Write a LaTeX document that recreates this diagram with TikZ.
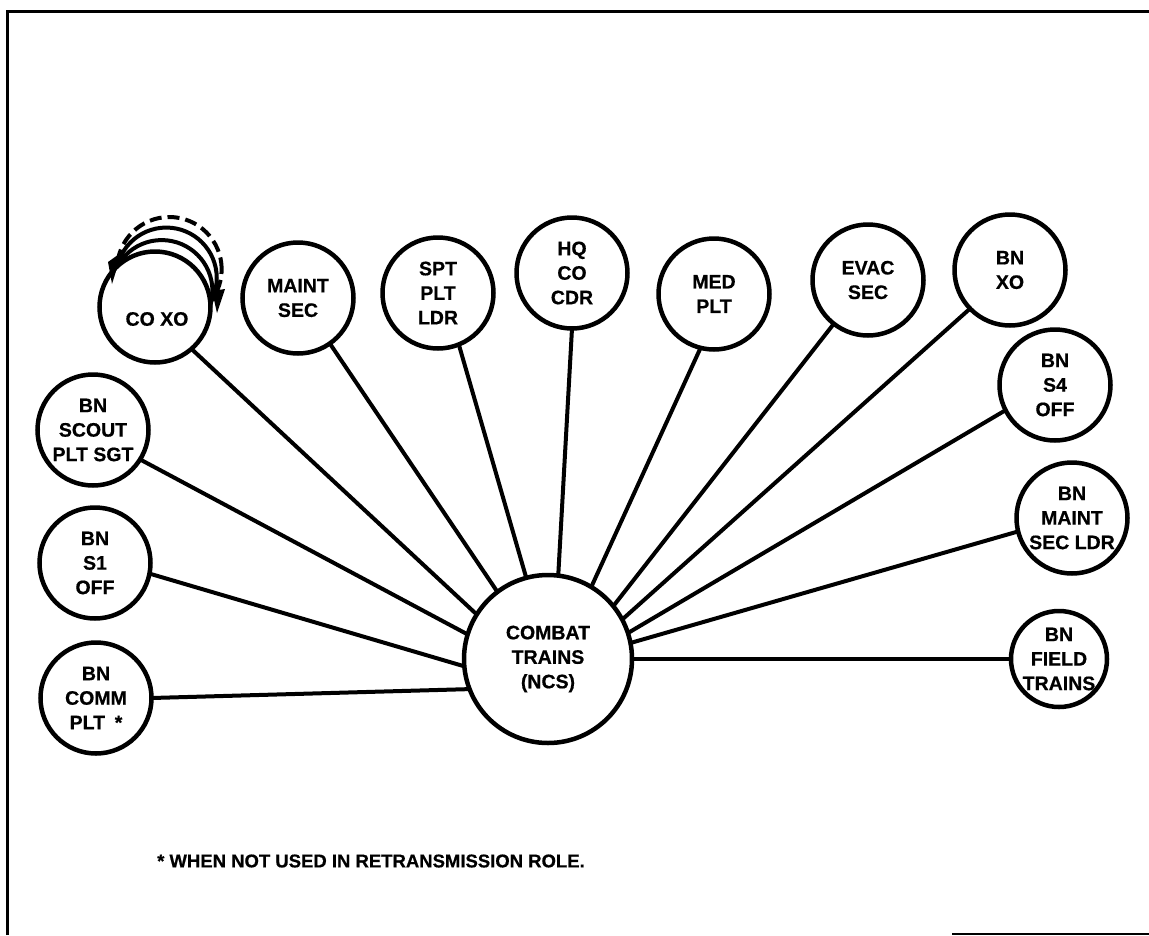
\documentclass[tikz,border=0pt]{standalone}
\usepackage{fontspec}
\setmainfont{Liberation Sans}[BoldFeatures={FakeBold=0.6}]
\begin{document}
\begin{tikzpicture}[x=1pt,y=-1pt,
  stn/.style={circle,draw,line width=4.5pt,fill=white,minimum size=111pt,inner sep=0pt,outer sep=0pt,align=center,font=\fontsize{19.5}{24.5}\selectfont\bfseries},
  lbl/.style={inner sep=0pt,align=center,font=\fontsize{19.5}{24.5}\selectfont\bfseries},
  link/.style={line width=4pt},
  loop/.style={line width=4pt},
  note/.style={anchor=west,inner sep=0pt,font=\fontsize{18.5}{22}\selectfont\bfseries}]
\useasboundingbox (0,0) rectangle (1149,935);
% frame
\draw[line width=3pt] (7,935) -- (7,11) -- (1149,11);
\draw[line width=2pt] (952,934) -- (1149,934);
% stacked circles behind CO XO
\draw[loop] (161.7,290.8) circle[radius=50.73pt];
\draw[loop] (166.3,278.0) circle[radius=50.45pt];
\draw[loop,dash pattern=on 12pt off 6pt] (169.35,269.33) circle[radius=52.32pt];
% stations
\node[stn,minimum size=168pt] (ct) at (548,659) {COMBAT\\TRAINS\\(NCS)};
\node[stn] (coxo) at (155,307) {};
\node[lbl] (coxot) at (157,319) {CO XO};
\node[stn] (maint) at (298,298) {MAINT\\SEC};
\node[stn] (spt) at (438,293) {SPT\\PLT\\LDR};
\node[stn] (hq) at (572,273) {HQ\\CO\\CDR};
\node[stn] (med) at (714,294) {MED\\PLT};
\node[stn] (evac) at (868,280) {EVAC\\SEC};
\node[stn] (bnxo) at (1010,270) {BN\\XO};
\node[stn] (s4) at (1055,385) {BN\\S4\\OFF};
\node[stn] (bnmaint) at (1072,518) {BN\\MAINT\\SEC LDR};
\node[stn,minimum size=96pt] (field) at (1059,659) {BN\\FIELD\\TRAINS};
\node[stn] (scout) at (93,430) {BN\\SCOUT\\PLT SGT};
\node[stn] (s1) at (95,563) {BN\\S1\\OFF};
\node[stn] (comm) at (96,698) {BN\\COMM\\PLT\hspace{0.5em}*};
\fill (212,291) -- (225,289) -- (217,313) -- cycle;
\fill (108,262) -- (122,252) -- (112,284) -- cycle;
% connectors
\draw[link] (coxo.-49.3) -- (ct.148.9);
\draw[link] (maint.-55.2) -- (ct.127.7);
\draw[link] (spt.-68.9) -- (ct.105.7);
\draw[link] (hq.-90) -- (ct.83.4);
\draw[link] (med.-104.5) -- (ct.59.4);
\draw[link] (evac.-128.3) -- (ct.39.6);
\draw[link] (bnxo.-136.3) -- (ct.28.8);
\draw[link] (s4.207.4) -- (ct.18.8);
\draw[link] (bnmaint.194) -- (ct.11);
\draw[link] (field.180) -- (ct.0);
\draw[link] (scout.-32.4) -- (ct.163.9);
\draw[link] (s1.-11.9) -- (ct.185.3);
\draw[link] (comm.0) -- (ct.201.2);
% footnote
\node[note] (fn) at (157,861) {* WHEN NOT USED IN RETRANSMISSION ROLE.};
\end{tikzpicture}
\end{document}
